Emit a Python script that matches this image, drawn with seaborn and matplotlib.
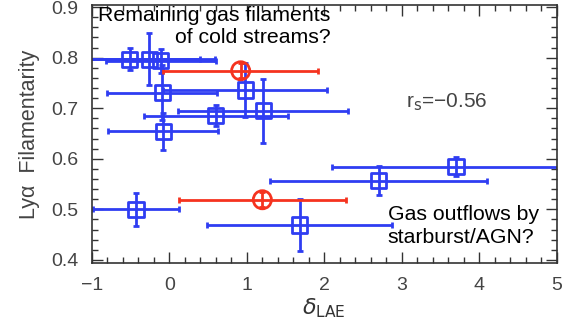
import matplotlib
matplotlib.use("Agg")
import matplotlib.pyplot as plt
import seaborn as sns
import pandas as pd
from matplotlib.ticker import MultipleLocator

# ---- data ----
blue_x = [-0.51, -0.26, -0.11, -0.09, -0.08, 0.98, 0.60, 1.21, -0.43, 1.68, 2.70, 3.70]
blue_y = [0.797, 0.797, 0.794, 0.731, 0.654, 0.736, 0.685, 0.695, 0.500, 0.469, 0.557, 0.584]
blue_xerr = [0.90, 0.85, 0.71, 0.71, 0.71, 1.06, 0.93, 1.10, 0.56, 1.20, 1.40, 1.60]
blue_yerr = [0.022, 0.051, 0.024, 0.054, 0.037, 0.053, 0.021, 0.063, 0.032, 0.052, 0.028, 0.019]

red_x = [0.92, 1.20]
red_y = [0.774, 0.519]
red_xerr = [1.00, 1.08]
red_yerr = [0.015, 0.015]

xticks = [-1, 0, 1, 2, 3, 4, 5]
yticks = [0.4, 0.5, 0.6, 0.7, 0.8, 0.9]

BLUE = "#2f3df2"
RED = "#f5331f"

sns.set_theme(style="ticks")
plt.rcParams["font.family"] = ["Liberation Sans", "DejaVu Sans"]

fig = plt.figure(figsize=(5.71, 3.35), dpi=100)
ax = fig.add_axes([0.161, 0.215, 0.814, 0.770])

ax.errorbar(blue_x, blue_y, xerr=blue_xerr, yerr=blue_yerr, fmt="none",
            ecolor=BLUE, elinewidth=2, capsize=2.5, capthick=2, zorder=2)
ax.errorbar(red_x, red_y, xerr=red_xerr, yerr=red_yerr, fmt="none",
            ecolor=RED, elinewidth=2, capsize=2.5, capthick=2, zorder=3)

dfb = pd.DataFrame({"x": blue_x, "y": blue_y})
dfr = pd.DataFrame({"x": red_x, "y": red_y})
sns.scatterplot(data=dfb, x="x", y="y", marker="s", s=120, facecolor="none",
                edgecolor=BLUE, linewidth=2, ax=ax, zorder=4)
sns.scatterplot(data=dfr, x="x", y="y", marker="o", s=170, facecolor="none",
                edgecolor=RED, linewidth=2, ax=ax, zorder=5)

ax.set_xlim(-1, 5)
ax.set_ylim(0.394, 0.904)
ax.set_xticks(xticks)
ax.set_xticklabels(["\u22121", "0", "1", "2", "3", "4", "5"])
ax.set_yticks(yticks)
ax.set_yticklabels([f"{v:.1f}" for v in yticks])
ax.xaxis.set_minor_locator(MultipleLocator(0.2))
ax.yaxis.set_minor_locator(MultipleLocator(0.02))
ax.tick_params(which="both", direction="in", top=True, right=True,
               labelsize=14, labelcolor="#444444", color="#333333")
ax.tick_params(which="major", length=8, width=1, pad=10)
ax.tick_params(which="minor", length=4, width=1)
for sp in ax.spines.values():
    sp.set_linewidth(1.2)
    sp.set_color("#333333")

ax.set_xlabel(r"$\delta_{\rm LAE}$", fontsize=16, labelpad=2, color="#333333")
ax.set_ylabel("Ly\u03b1  Filamentarity", fontsize=15.5, labelpad=8, color="#444444")

ax.text(2.08, 0.903, "Remaining gas filaments\nof cold streams?", ha="right", va="top",
        fontsize=15.3, color="black", linespacing=1.25)
ax.text(2.82, 0.467, "Gas outflows by\nstarburst/AGN?", ha="left", va="center",
        fontsize=15.3, color="black", linespacing=1.25)
ax.text(3.05, 0.712, "r$_{\\rm s}$=\u22120.56", ha="left", va="center",
        fontsize=15, color="#444444")

fig.savefig("out.png", dpi=100)
